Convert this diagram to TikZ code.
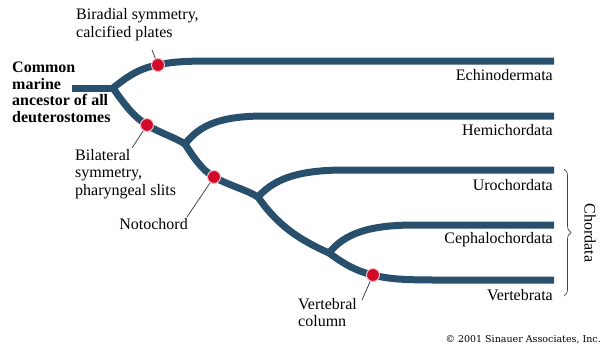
\documentclass[tikz,border=0pt]{standalone}
\usepackage{fontspec}
\setmainfont{Liberation Serif}
\newfontfamily\copyfont{DejaVu Serif}
\usetikzlibrary{decorations.pathreplacing}
\definecolor{branch}{RGB}{40,80,108}
\definecolor{dotred}{RGB}{208,10,40}
\definecolor{dotrim}{RGB}{240,190,200}
\tikzset{
  br/.style={draw=branch, line width=7pt, line cap=butt},
  mark dot/.style={circle, fill=dotred, draw=dotrim, line width=1pt, minimum size=13pt, inner sep=0pt},
  lbl/.style={font=\fontsize{16}{17.5}\selectfont, inner sep=0pt, align=left},
  taxon/.style={font=\fontsize{16}{17}\selectfont, inner sep=0pt, anchor=east},
  leader/.style={draw=black!80, line width=0.7pt},
}
\begin{document}
\begin{tikzpicture}[x=1pt,y=-1pt]
\useasboundingbox (0,0) rectangle (603,349);
% branch points
\coordinate (root) at (72,88);
\coordinate (b1) at (113,88);
\coordinate (b2) at (185,144);
\coordinate (b3) at (258,197);
\coordinate (b4) at (329,253);
\coordinate (e1) at (554,61);
\coordinate (e2) at (554,116);
\coordinate (e3) at (554,170);
\coordinate (e4) at (554,225);
\coordinate (e5) at (554,280);
% tree
\draw[br] (root) -- (b1);
\draw[br] (b1) .. controls (128,76) and (140,68) .. (158,65) .. controls (170,62) and (185,61) .. (210,61) -- (e1);
\draw[br] (b1) .. controls (124,104) and (134,117) .. (147,125) .. controls (160,133) and (174,137) .. (b2);
\draw[br] (b2) .. controls (200,125) and (220,116) .. (265,116) -- (e2);
\draw[br] (b2) .. controls (194,158) and (202,170) .. (214,177) .. controls (230,186) and (245,189) .. (b3);
\draw[br] (b3) .. controls (275,178) and (300,170) .. (345,170) -- (e3);
\draw[br] (b3) .. controls (278,226) and (300,240) .. (b4);
\draw[br] (b4) .. controls (345,233) and (370,225) .. (415,225) -- (e4);
\draw[br] (b4) .. controls (344,264) and (356,271) .. (373,275) .. controls (388,279) and (405,280) .. (435,280) -- (e5);
% character dots
\node[mark dot] (d1) at (158,65) {};
\node[mark dot] (d2) at (147,125) {};
\node[mark dot] (d3) at (214,177) {};
\node[mark dot] (d4) at (373,275) {};
% labels
\node[lbl, anchor=south west] (l1) at (76,41) {Biradial symmetry,\\calcified plates};
\node[lbl, anchor=north west, font=\fontsize{16}{16.5}\selectfont\bfseries] (root lbl) at (12,62) {Common\\marine\\ancestor of all\\deuterostomes};
\node[lbl, anchor=north west] (l2) at (75,149) {Bilateral\\symmetry,\\pharyngeal slits};
\node[lbl, anchor=north east] (l3) at (188,218) {Notochord};
\node[lbl, anchor=north west] (l4) at (298,298) {Vertebral\\column};
\draw[leader] (152,50) -- (d1);
\draw[leader] (132,148) -- (d2);
\draw[leader] (187,217) -- (d3);
\draw[leader] (362,300) -- (d4);
% taxa
\node[taxon] (t1) at (553,75) {Echinodermata};
\node[taxon] (t2) at (553,130) {Hemichordata};
\node[taxon] (t3) at (553,185) {Urochordata};
\node[taxon] (t4) at (553,240) {Cephalochordata};
\node[taxon] (t5) at (553,295) {Vertebrata};
% brace
\coordinate (bt) at (564,169);
\coordinate (bb) at (564,296);
\draw[draw=black!75, line width=0.7pt, decorate, decoration={brace, amplitude=7pt}] (bt) -- (bb);
\node[font=\fontsize{16}{17}\selectfont, rotate=-90, inner sep=0pt] (chord) at (590,233) {Chordata};
% copyright
\node[font=\copyfont\fontsize{9.5}{11}\selectfont, anchor=east, inner sep=0pt] (copy) at (601,340) {\textcopyright{} 2001 Sinauer Associates, Inc.};
\end{tikzpicture}
\end{document}
